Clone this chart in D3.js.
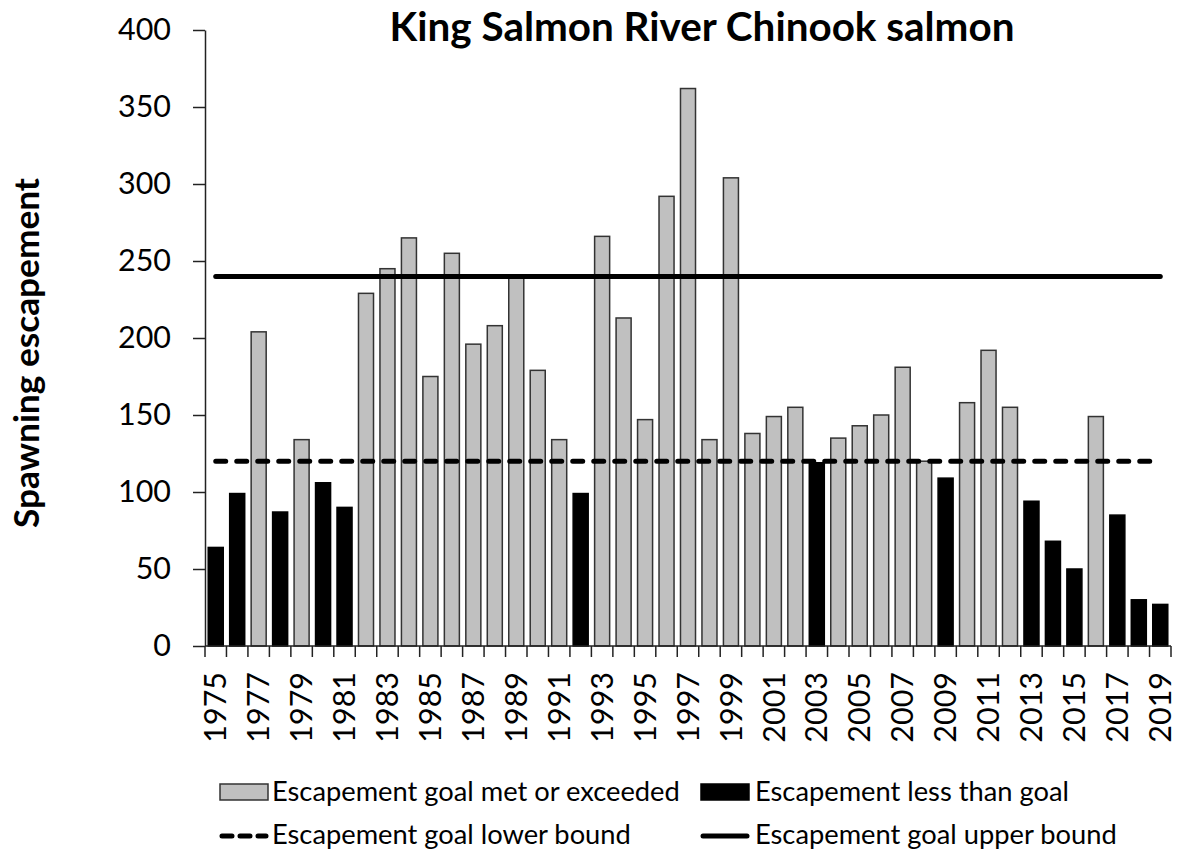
<!DOCTYPE html>
<html>
<head>
<meta charset="utf-8">
<script src="https://d3js.org/d3.v7.min.js"></script>
<style>
  body { margin:0; background:#fff; }
  svg text { font-family: Lato, "Open Sans", sans-serif; fill:#000; }
</style>
</head>
<body>
<div id="vis"></div>
<script>
// data
var years = [1975,1976,1977,1978,1979,1980,1981,1982,1983,1984,1985,1986,1987,1988,1989,
             1990,1991,1992,1993,1994,1995,1996,1997,1998,1999,2000,2001,2002,2003,2004,
             2005,2006,2007,2008,2009,2010,2011,2012,2013,2014,2015,2016,2017,2018,2019]
var escapement = [64,99,204,87,134,106,90,229,245,265,175,255,196,208,240,
                  179,134,99,266,213,147,292,362,134,304,138,149,155,119,135,
                  143,150,181,120,109,158,192,155,94,68,50,149,85,30,27]
var tickYears = [1975,1977,1979,1981,1983,1985,1987,1989,1991,1993,1995,1997,1999,
                 2001,2003,2005,2007,2009,2011,2013,2015,2017,2019]
var yTicks = [0,50,100,150,200,250,300,350,400]
var goalLower = 120
var goalUpper = 240
var legendLabels = ["Escapement goal met or exceeded","Escapement less than goal",
                    "Escapement goal lower bound","Escapement goal upper bound"]
var colors = ["#c0c0c0","#000000"]

var W = 1178, H = 852
var margin = {left:205, right:7, top:30, bottom:206}

var svg = d3.select("#vis").append("svg").attr("width",W).attr("height",H)

var x = d3.scaleBand().domain(years)
    .range([margin.left, W-margin.right])
    .paddingInner(0.3).paddingOuter(0.15)
var y = d3.scaleLinear().domain([0,400]).range([H-margin.bottom, margin.top])

function fitWidth(sel, w){
    var len = sel.node().getComputedTextLength()
    var fs = parseFloat(sel.style("font-size"))
    sel.style("font-size", (fs*w/len)+"px")
    return fs*w/len
}

// bars
svg.selectAll("rect.bar").data(years)
    .enter().append("rect").attr("class","bar")
    .attr("x",function(d){ return x(d) })
    .attr("width",x.bandwidth())
    .attr("y",function(d,i){ return y(escapement[i]) })
    .attr("height",function(d,i){ return y(0)-y(escapement[i]) })
    .attr("fill",function(d,i){ return escapement[i]>=goalLower ? colors[0] : colors[1] })
    .attr("stroke",function(d,i){ return escapement[i]>=goalLower ? "#333" : "#000" })
    .attr("stroke-width",1.5)

// goal lines (centre of first to centre of last category)
var line = d3.line().x(function(d){ return x(d[0])+x.bandwidth()/2 }).y(function(d){ return y(d[1]) })
var first = years[0], last = years[years.length-1]
svg.append("path").datum([[first,goalUpper],[last,goalUpper]])
    .attr("d",line).attr("fill","none").attr("stroke","#000")
    .attr("stroke-width",5).attr("stroke-linecap","round")
svg.append("path").datum([[first,goalLower],[last,goalLower]])
    .attr("d",line).attr("fill","none").attr("stroke","#000")
    .attr("stroke-width",5).attr("stroke-linecap","round")
    .attr("stroke-dasharray","10,11")

// y axis
var yAxis = svg.append("g").attr("transform","translate("+margin.left+",0)")
    .call(d3.axisLeft(y).tickValues(yTicks).tickSize(12).tickPadding(22).tickSizeOuter(0))
yAxis.select(".domain").attr("stroke","#222").attr("stroke-width",1.5)
yAxis.selectAll(".tick line").attr("stroke","#222").attr("stroke-width",1.5)
yAxis.selectAll("text").style("font-family","Lato").style("font-size","32px").attr("fill","#000")
var tickFs = fitWidth(yAxis.selectAll("text").filter(function(d){ return d==400 }), 53)
yAxis.selectAll("text").style("font-size",tickFs+"px")

// x axis: ticks on band boundaries
var xAxisG = svg.append("g")
xAxisG.append("line").attr("x1",margin.left).attr("x2",W-margin.right)
    .attr("y1",y(0)).attr("y2",y(0)).attr("stroke","#222").attr("stroke-width",1.5)
var bounds = years.map(function(d){ return x(d)-x.step()*x.paddingInner()/2 })
bounds[0] = margin.left
bounds.push(W-margin.right)
xAxisG.selectAll("line.xt").data(bounds).enter().append("line").attr("class","xt")
    .attr("x1",function(d){ return d }).attr("x2",function(d){ return d })
    .attr("y1",y(0)).attr("y2",y(0)+11).attr("stroke","#222").attr("stroke-width",1.5)
xAxisG.selectAll("text").data(tickYears).enter().append("text")
    .attr("transform",function(d){ return "translate("+(x(d)+x.bandwidth()/2)+","+(y(0)+26)+") rotate(-90)" })
    .attr("text-anchor","end").attr("dy","0.35em")
    .style("font-size",tickFs+"px")
    .text(function(d){ return d })

// title
var title = svg.append("text").attr("x",702).attr("y",41).attr("text-anchor","middle")
    .style("font-weight","bold").style("font-size","40px")
    .text("King Salmon River Chinook salmon")
fitWidth(title, 625)

// y label
var ylab = svg.append("text").attr("transform","translate(39,353) rotate(-90)")
    .attr("text-anchor","middle").style("font-weight","bold").style("font-size","34px")
    .text("Spawning escapement")
fitWidth(ylab, 350)

// legend
var leg = svg.append("g")
leg.append("rect").attr("x",220).attr("y",784).attr("width",48).attr("height",16)
    .attr("fill",colors[0]).attr("stroke","#333").attr("stroke-width",1.5)
leg.append("rect").attr("x",701).attr("y",784).attr("width",48).attr("height",16)
    .attr("fill",colors[1]).attr("stroke","#000").attr("stroke-width",1.5)
leg.append("line").attr("x1",222).attr("x2",266).attr("y1",836).attr("y2",836)
    .attr("stroke","#000").attr("stroke-width",5).attr("stroke-linecap","round")
    .attr("stroke-dasharray","10,8")
leg.append("line").attr("x1",703).attr("x2",747).attr("y1",836).attr("y2",836)
    .attr("stroke","#000").attr("stroke-width",5).attr("stroke-linecap","round")
var legPos = [[272,801],[755,801],[272,844],[755,844]]
var legText = leg.selectAll("text").data(legendLabels).enter().append("text")
    .attr("x",function(d,i){ return legPos[i][0] })
    .attr("y",function(d,i){ return legPos[i][1] })
    .style("font-size","26px")
    .text(function(d){ return d })
var legFs = fitWidth(legText.filter(function(d,i){ return i==0 }), 408)
legText.style("font-size",legFs+"px")
</script>
</body>
</html>
